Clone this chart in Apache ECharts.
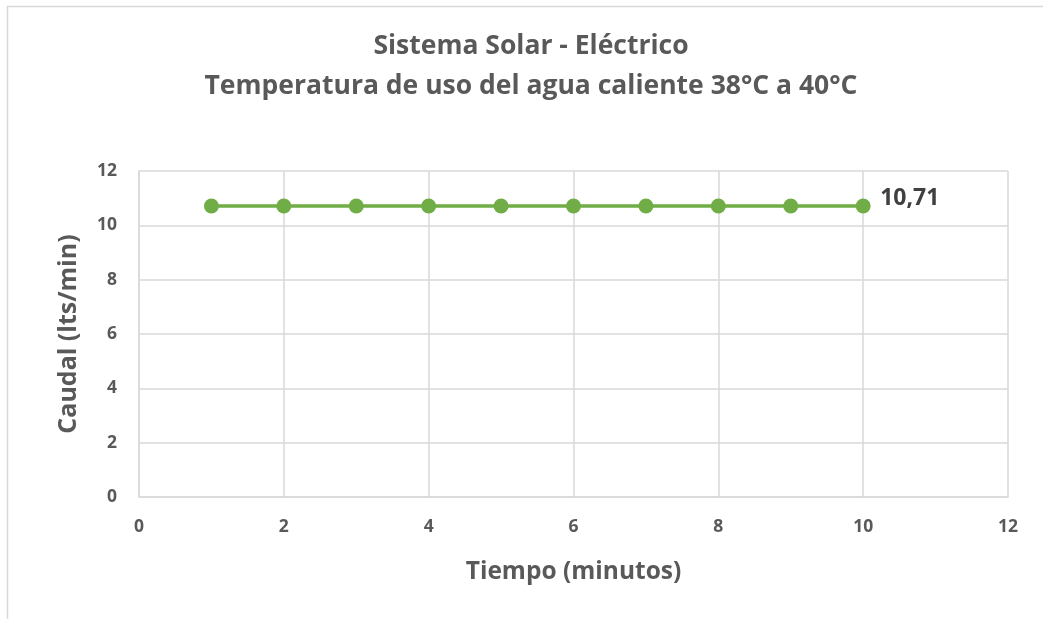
<!DOCTYPE html>
<html>
<head>
<meta charset="utf-8">
<script src="https://cdn.jsdelivr.net/npm/echarts@6/dist/echarts.min.js"></script>
<style>
  html, body { margin: 0; padding: 0; background: #fff; }
  #chart { width: 1043px; height: 619px; }
</style>
</head>
<body>
<div id="chart"></div>
<script>
// Flow rate over time for the solar-electric system
const minutes = [1, 2, 3, 4, 5, 6, 7, 8, 9, 10];
const caudal = [10.71, 10.71, 10.71, 10.71, 10.71, 10.71, 10.71, 10.71, 10.71, 10.71];
const titleLines = ['Sistema Solar - Eléctrico', 'Temperatura de uso del agua caliente 38°C a 40°C'];
const xAxisName = 'Tiempo (minutos)';
const yAxisName = 'Caudal (lts/min)';

const FONT = '"Open Sans", "DejaVu Sans", sans-serif';
const TEXT = '#595959';
const GRID = '#d9d9d9';

const points = minutes.map((m, i) => [m, caudal[i]]);

// two-line chart heading, drawn as centred text lines
const titleGraphics = titleLines.map((line, i) => ({
  type: 'text',
  x: 531,
  y: 46 + i * 40,
  silent: true,
  style: {
    text: line,
    align: 'center',
    verticalAlign: 'middle',
    fontFamily: FONT,
    fontWeight: 'bold',
    fontSize: 26.5,
    fill: TEXT
  }
}));

const chart = echarts.init(document.getElementById('chart'), null, { renderer: 'canvas' });
chart.setOption({
  backgroundColor: '#ffffff',
  animation: false,
  graphic: [{
    type: 'polyline',
    shape: { points: [[7.5, 640], [7.5, 6.5], [1060, 6.5]] },
    style: { stroke: '#d9d9d9', lineWidth: 1.5, fill: null },
    silent: true
  }].concat(titleGraphics),
  grid: { left: 139, right: 35, top: 171, bottom: 122, containLabel: false },
  xAxis: {
    type: 'value',
    min: 0,
    max: 12,
    interval: 2,
    name: xAxisName,
    nameLocation: 'middle',
    nameGap: 63,
    nameTextStyle: { fontFamily: FONT, fontWeight: 'bold', fontSize: 24.5, color: TEXT },
    axisLine: { show: true, lineStyle: { color: GRID, width: 1.5 } },
    axisTick: { show: false },
    axisLabel: { fontFamily: FONT, fontWeight: 'bold', fontSize: 17.5, color: TEXT, margin: 21 },
    splitLine: { show: true, lineStyle: { color: GRID, width: 1.5 } }
  },
  yAxis: {
    type: 'value',
    min: 0,
    max: 12,
    interval: 2,
    name: yAxisName,
    nameLocation: 'middle',
    nameGap: 58,
    nameTextStyle: { fontFamily: FONT, fontWeight: 'bold', fontSize: 25, color: TEXT },
    axisLine: { show: true, lineStyle: { color: GRID, width: 1.5 } },
    axisTick: { show: false },
    axisLabel: { fontFamily: FONT, fontWeight: 'bold', fontSize: 17.5, color: TEXT, margin: 22 },
    splitLine: { show: true, lineStyle: { color: GRID, width: 1.5 } }
  },
  series: [{
    type: 'line',
    data: points,
    symbol: 'circle',
    symbolSize: 15,
    itemStyle: { color: '#70ad47' },
    lineStyle: { color: '#70ad47', width: 3.5 },
    label: { show: false },
    endLabel: {
      show: true,
      formatter: p => p.value[1].toFixed(2).replace('.', ','),
      fontFamily: FONT,
      fontWeight: 'bold',
      fontSize: 23,
      color: '#404040',
      offset: [9, -8]
    }
  }]
});
</script>
</body>
</html>
